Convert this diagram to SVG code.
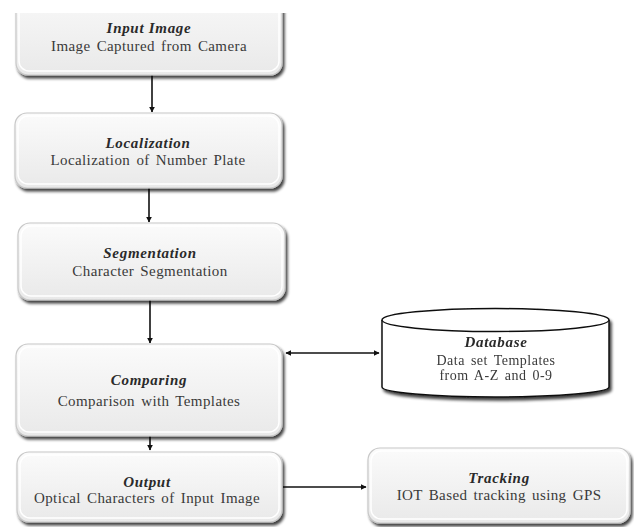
<svg xmlns="http://www.w3.org/2000/svg" width="634" height="527" viewBox="0 0 634 527">
<defs>
<linearGradient id="boxFill" x1="0" y1="0" x2="0" y2="1">
<stop offset="0" stop-color="#fbfbfb"/>
<stop offset="1" stop-color="#e9e9e9"/>
</linearGradient>
<filter id="shadow" x="-10%" y="-10%" width="125%" height="135%">
<feGaussianBlur in="SourceAlpha" stdDeviation="1.6"/>
<feOffset dx="1.5" dy="3" result="b"/>
<feComponentTransfer><feFuncA type="linear" slope="0.75"/></feComponentTransfer>
<feMerge><feMergeNode/><feMergeNode in="SourceGraphic"/></feMerge>
</filter>
<clipPath id="topClip"><rect x="0" y="13" width="634" height="514"/></clipPath>
<marker id="arr" viewBox="0 0 10 10" refX="9" refY="5" markerWidth="6" markerHeight="6" markerUnits="userSpaceOnUse" orient="auto-start-reverse">
<path d="M0,0 L10,5 L0,10 z" fill="#111"/>
</marker>
</defs>
<style>
.box{fill:url(#boxFill);stroke:#c8c8c8;stroke-width:1.2;filter:url(#shadow)}
.inner{fill:none;stroke:#ffffff;stroke-width:1.5}
.cyl{fill:#ffffff;stroke:#111;stroke-width:1.5}
.t{font-family:"Liberation Serif","Times New Roman",serif;font-size:15px;font-weight:bold;font-style:italic;fill:#2a2a2a;text-anchor:middle;letter-spacing:0.7px}
.s{font-family:"Liberation Serif","Times New Roman",serif;font-size:15px;fill:#3a3a3a;text-anchor:middle;letter-spacing:0.4px;word-spacing:2px}
.sd{font-size:14px;letter-spacing:0.5px}
.c{stroke:#111;stroke-width:1.6;fill:none}
</style>
<rect x="0" y="0" width="634" height="527" fill="#ffffff"/>
<g id="connectors">
<line class="c" x1="152" y1="75" x2="152" y2="112" marker-end="url(#arr)"/>
<line class="c" x1="149" y1="188" x2="149" y2="222" marker-end="url(#arr)"/>
<line class="c" x1="150" y1="300" x2="150" y2="343" marker-end="url(#arr)"/>
<line class="c" x1="150" y1="436" x2="150" y2="450" marker-end="url(#arr)"/>
<line class="c" x1="286" y1="353" x2="379" y2="353" marker-start="url(#arr)" marker-end="url(#arr)"/>
<line class="c" x1="283" y1="487" x2="366" y2="487" marker-end="url(#arr)"/>
</g>
<g id="input-image" clip-path="url(#topClip)">
<rect class="box" x="16" y="-20" width="266" height="95" rx="12"/>
<rect class="inner" x="19" y="-17" width="260" height="88" rx="10"/>
<text class="t" x="149" y="33">Input Image</text>
<text class="s" x="149" y="51">Image Captured from Camera</text>
</g>
<g id="localization">
<rect class="box" x="15" y="113" width="267" height="75" rx="12"/>
<rect class="inner" x="18" y="116" width="261" height="68" rx="10"/>
<text class="t" x="148" y="148">Localization</text>
<text class="s" x="148" y="165">Localization of Number Plate</text>
</g>
<g id="segmentation">
<rect class="box" x="18" y="223" width="267" height="77" rx="12"/>
<rect class="inner" x="21" y="226" width="261" height="70" rx="10"/>
<text class="t" x="150" y="258">Segmentation</text>
<text class="s" x="150" y="276">Character Segmentation</text>
</g>
<g id="comparing">
<rect class="box" x="16" y="344" width="266" height="92" rx="12"/>
<rect class="inner" x="19" y="347" width="260" height="85" rx="10"/>
<text class="t" x="149" y="385">Comparing</text>
<text class="s" x="149" y="406">Comparison with Templates</text>
</g>
<g id="database" filter="url(#shadow)">
<path class="cyl" d="M382,320 L382,387 A113.5,10 0 0 0 609,387 L609,320 A113.5,11.5 0 0 0 382,320 Z"/>
<path class="cyl" d="M382,320 A113.5,11.5 0 0 0 609,320" fill="none"/>
<text class="t" x="496" y="347">Database</text>
<text class="s sd" x="496" y="365">Data set Templates</text>
<text class="s sd" x="496" y="380">from A-Z and 0-9</text>
</g>
<g id="output">
<rect class="box" x="17" y="452" width="265" height="70" rx="12"/>
<rect class="inner" x="20" y="455" width="259" height="63" rx="10"/>
<text class="t" x="147" y="487">Output</text>
<text class="s" x="147" y="503">Optical Characters of Input Image</text>
</g>
<g id="tracking">
<rect class="box" x="368" y="448" width="262" height="75" rx="12"/>
<rect class="inner" x="371" y="451" width="256" height="68" rx="10"/>
<text class="t" x="499" y="483">Tracking</text>
<text class="s" x="499" y="500">IOT Based tracking using GPS</text>
</g>
</svg>
